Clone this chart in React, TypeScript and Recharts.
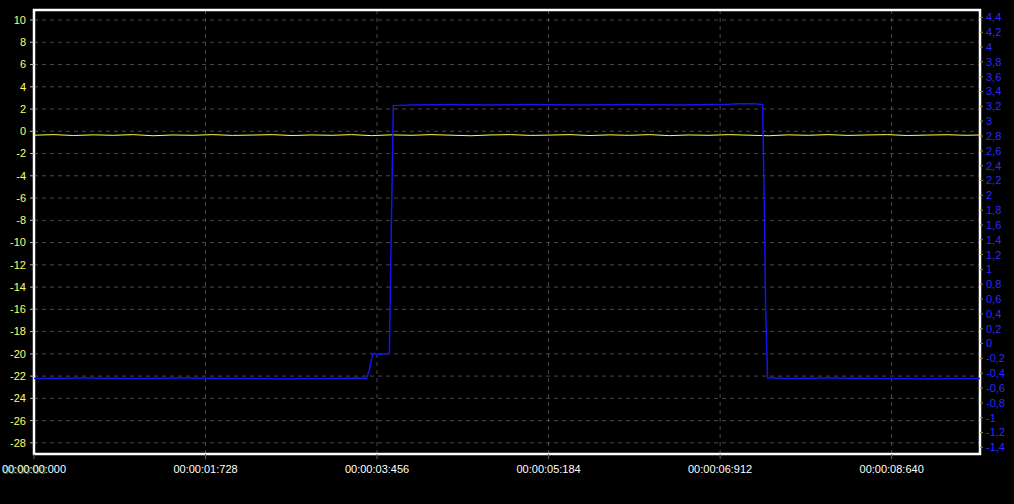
import React from "react";
import {
    LineChart,
    Line,
    XAxis,
    YAxis,
    CartesianGrid,
    ReferenceArea,
} from "recharts";

// time in seconds
const blueTimes = [
    0, 0.5, 1.0, 1.5, 2.0, 2.5, 3.0, 3.3, 3.35, 3.38, 3.41, 3.43, 3.45, 3.5, 3.56, 3.58,
    3.6, 3.62, 3.8, 4.2, 4.6, 5.0, 5.5, 6.0, 6.5, 7.0, 7.1, 7.25, 7.32, 7.34, 7.36, 7.37,
    7.39, 7.6, 8.0, 8.5, 9.0, 9.53,
];
const blueValues = [
    -0.47, -0.465, -0.47, -0.465, -0.47, -0.475, -0.47, -0.465, -0.47, -0.35, -0.15, -0.13, -0.145, -0.14, -0.14, -0.13,
    1.6, 3.21, 3.22, 3.225, 3.22, 3.225, 3.22, 3.225, 3.22, 3.23, 3.235, 3.235, 3.23, 3.22, 1.6, 0.5,
    -0.46, -0.47, -0.465, -0.47, -0.475, -0.47,
];

const yellowTimes = [
    0, 0.2, 0.4, 0.6, 0.8, 1.0, 1.2, 1.4, 1.6, 1.8, 2.0, 2.2, 2.4, 2.6, 2.8, 3.0,
    3.2, 3.4, 3.6, 3.8, 4.0, 4.2, 4.4, 4.6, 4.8, 5.0, 5.2, 5.4, 5.6, 5.8, 6.0, 6.2,
    6.4, 6.6, 6.8, 7.0, 7.2, 7.4, 7.6, 7.8, 8.0, 8.2, 8.4, 8.6, 8.8, 9.0, 9.2, 9.4, 9.53,
];
const yellowValues = [
    -0.35, -0.3, -0.38, -0.32, -0.36, -0.3, -0.4, -0.33, -0.36, -0.3, -0.37, -0.34, -0.3, -0.38, -0.33, -0.36,
    -0.3, -0.39, -0.32, -0.36, -0.3, -0.35, -0.4, -0.33, -0.3, -0.37, -0.34, -0.3, -0.38, -0.32, -0.36, -0.3,
    -0.39, -0.33, -0.36, -0.3, -0.35, -0.4, -0.32, -0.36, -0.3, -0.37, -0.33, -0.3, -0.38, -0.34, -0.31, -0.36, -0.33,
];

const timeTicks = [0, 1.728, 3.456, 5.184, 6.912, 8.64];
const leftTicks = [10, 8, 6, 4, 2, 0, -2, -4, -6, -8, -10, -12, -14, -16, -18, -20, -22, -24, -26, -28];
const rightTicks = [
    4.4, 4.2, 4, 3.8, 3.6, 3.4, 3.2, 3, 2.8, 2.6, 2.4, 2.2, 2, 1.8, 1.6, 1.4, 1.2, 1, 0.8, 0.6, 0.4,
    0.2, 0, -0.2, -0.4, -0.6, -0.8, -1, -1.2, -1.4,
];

const blueData = blueTimes.map((t, i) => ({ t, v: blueValues[i] }));
const yellowData = yellowTimes.map((t, i) => ({ t, v: yellowValues[i] }));

const X_MAX = 9.53;
const FONT = "'Liberation Sans', Arial, sans-serif";

function fmtTime(sec: number) {
    const ms = Math.round(sec * 1000);
    const s = Math.floor(ms / 1000);
    const rest = ms % 1000;
    return `00:00:${String(s).padStart(2, "0")}:${String(rest).padStart(3, "0")}`;
}

function fmtComma(v: number) {
    const r = Math.round(v * 10) / 10;
    return String(r).replace(".", ",");
}

function TimeTick(props: any) {
    const { x, y, payload } = props;
    const first = payload.value === 0;
    return (
        <g>
            {first && (
                <text x={3} y={y + 13} fill="#2f7a2f" fontSize={11} fontFamily={FONT}>
                    00:00:00
                </text>
            )}
            <text x={x} y={y + 12} textAnchor="middle" fill="#ffffff" fontSize={11} fontFamily={FONT}>
                {fmtTime(payload.value)}
            </text>
        </g>
    );
}

export default function App() {
    return (
        <div style={{ position: "fixed", left: 0, top: 0, width: 1014, height: 504, background: "#000" }}>
            <LineChart width={1014} height={504} margin={{ top: 10, right: 0, bottom: 0, left: 0 }}>
                <CartesianGrid
                    yAxisId="left"
                    stroke="#4a4a4a"
                    strokeDasharray="4 4"
                    verticalValues={timeTicks}
                />
                <XAxis
                    dataKey="t"
                    type="number"
                    domain={[0, X_MAX]}
                    ticks={timeTicks}
                    allowDataOverflow
                    height={50}
                    axisLine={false}
                    tickLine={{ stroke: "#666" }}
                    tickSize={5}
                    tick={<TimeTick />}
                    interval={0}
                />
                <YAxis
                    yAxisId="left"
                    orientation="left"
                    width={34}
                    domain={[-29, 10.9]}
                    ticks={leftTicks}
                    allowDataOverflow
                    interval={0}
                    axisLine={false}
                    tickLine={{ stroke: "#bbb" }}
                    tickSize={4}
                    tickMargin={4}
                    tick={{ fill: "#ffff66", fontSize: 11, fontFamily: FONT }}
                />
                <YAxis
                    yAxisId="right"
                    orientation="right"
                    width={34}
                    domain={[-1.49, 4.5]}
                    ticks={rightTicks}
                    allowDataOverflow
                    interval={0}
                    axisLine={false}
                    tickLine={{ stroke: "#8a8a3a" }}
                    tickSize={3}
                    tickMargin={3}
                    tickFormatter={fmtComma}
                    tick={{ fill: "#2a2aff", fontSize: 11, fontFamily: FONT, textAnchor: "start" }}
                />
                <Line
                    yAxisId="left"
                    data={yellowData}
                    dataKey="v"
                    type="linear"
                    stroke="#ffff40"
                    strokeWidth={1}
                    dot={false}
                    isAnimationActive={false}
                />
                <Line
                    yAxisId="right"
                    data={blueData}
                    dataKey="v"
                    type="linear"
                    stroke="#1414f0"
                    strokeWidth={1.5}
                    dot={false}
                    isAnimationActive={false}
                />
                <ReferenceArea
                    yAxisId="left"
                    x1={0}
                    x2={X_MAX}
                    y1={-29}
                    y2={10.9}
                    fill="none"
                    fillOpacity={0}
                    stroke="#ffffff"
                    strokeWidth={2.5}
                    ifOverflow="visible"
                />
            </LineChart>
        </div>
    );
}
